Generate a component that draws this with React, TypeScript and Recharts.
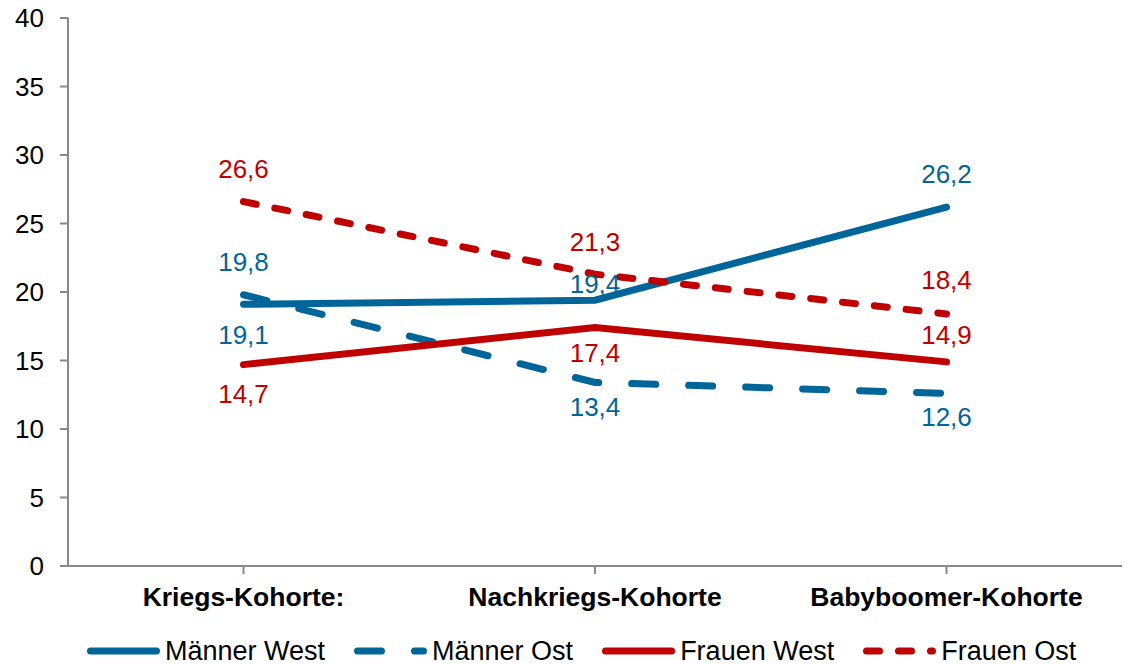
import React from 'react';
import { LineChart, Line, XAxis, YAxis, LabelList } from 'recharts';

const categories = ['Kriegs-Kohorte:', 'Nachkriegs-Kohorte', 'Babyboomer-Kohorte'];
const maennerWest = [19.1, 19.4, 26.2];
const maennerOst = [19.8, 13.4, 12.6];
const frauenWest = [14.7, 17.4, 14.9];
const frauenOst = [26.6, 21.3, 18.4];
const yTicks = [0, 5, 10, 15, 20, 25, 30, 35, 40];

const BLUE = '#006699';
const RED = '#C00000';
const FONT = '"Liberation Sans", Arial, sans-serif';

const data = categories.map((name, i) => ({
  name,
  mw: maennerWest[i],
  mo: maennerOst[i],
  fw: frauenWest[i],
  fo: frauenOst[i],
}));

// vertical label shift per point (px, negative = above)
const series = [
  { key: 'mw', name: 'Männer West', color: BLUE, dash: undefined, dy: [31, -16, -33] },
  { key: 'mo', name: 'Männer Ost', color: BLUE, dash: '24 33', dy: [-33, 25, 24] },
  { key: 'fw', name: 'Frauen West', color: RED, dash: undefined, dy: [29, 25, -27] },
  { key: 'fo', name: 'Frauen Ost', color: RED, dash: '13 19', dy: [-33, -32, -34] },
];

const fmt = (v: number) => v.toFixed(1).replace('.', ',');

function makeLabel(color: string, dy: number[]) {
  return (props: any) => {
    const { x, y, value, index } = props;
    return (
      <text
        x={x}
        y={y + dy[index]}
        textAnchor="middle"
        dominantBaseline="central"
        fill={color}
        fontSize={26}
        fontFamily={FONT}
      >
        {fmt(value)}
      </text>
    );
  };
}

function LegendRow() {
  return (
    <div
      style={{
        position: 'absolute',
        left: 87,
        top: 636,
        display: 'flex',
        alignItems: 'center',
        gap: 29,
        fontFamily: FONT,
        fontSize: 27,
        color: '#000',
      }}
    >
      {series.map((s) => (
        <div key={s.key} style={{ display: 'flex', alignItems: 'center' }}>
          <svg width={73} height={30}>
            <line
              x1={3.5}
              y1={15}
              x2={69.5}
              y2={15}
              stroke={s.color}
              strokeWidth={7}
              strokeLinecap="round"
              strokeDasharray={s.dash}
            />
          </svg>
          <span style={{ marginLeft: 5, lineHeight: '30px' }}>{s.name}</span>
        </div>
      ))}
    </div>
  );
}

export default function App() {
  return (
    <div style={{ position: 'absolute', left: 0, top: 0, width: 1124, height: 665, background: '#fff' }}>
      <LineChart
        width={1124}
        height={665}
        data={data}
        margin={{ top: 18, right: 2, bottom: 0, left: 8 }}
      >
        <XAxis
          dataKey="name"
          height={99}
          padding={{ left: 175.5, right: 175.5 }}
          stroke="#898989"
          strokeWidth={2}
          tickSize={8}
          tickMargin={13}
          interval={0}
          tick={{ fill: '#000', fontSize: 26.5, fontWeight: 'bold', fontFamily: FONT }}
        />
        <YAxis
          domain={[0, 40]}
          ticks={yTicks}
          width={60}
          stroke="#898989"
          strokeWidth={2}
          tickSize={8}
          tickMargin={16}
          tick={{ fill: '#000', fontSize: 26, fontFamily: FONT }}
        />
        {series.map((s) => (
          <Line
            key={s.key}
            dataKey={s.key}
            name={s.name}
            type="linear"
            stroke={s.color}
            strokeWidth={7}
            strokeLinecap="round"
            strokeDasharray={s.dash}
            dot={false}
            activeDot={false}
            isAnimationActive={false}
          >
            <LabelList dataKey={s.key} content={makeLabel(s.color, s.dy)} />
          </Line>
        ))}
      </LineChart>
      <LegendRow />
    </div>
  );
}
